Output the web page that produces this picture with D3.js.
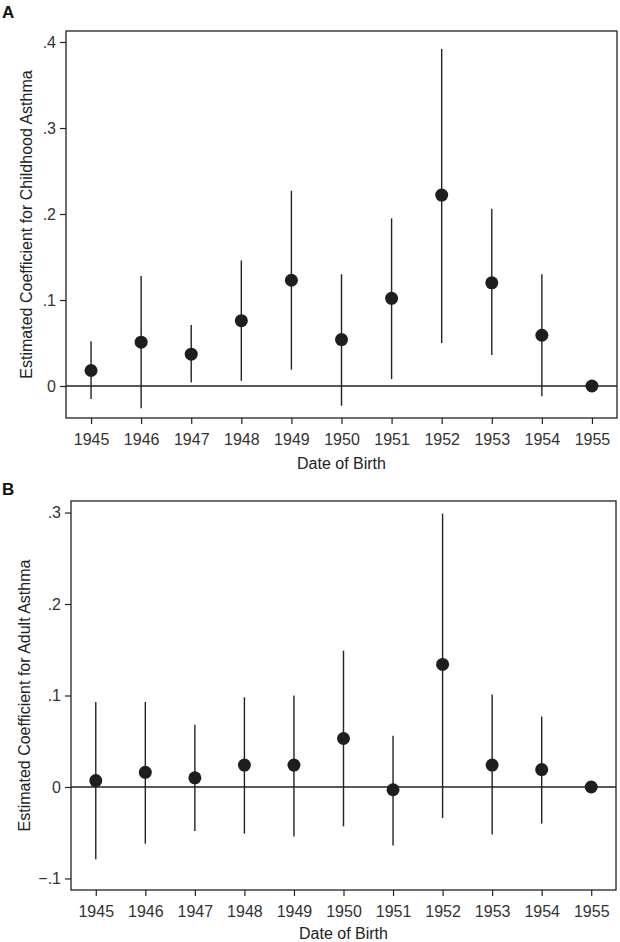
<!DOCTYPE html>
<meta charset="utf-8">
<style>
  body { margin: 0; background: #fff; }
  svg text { font-family: "Liberation Sans", Arial, sans-serif; fill: #222; }
</style>
<body>
<div id="chart"></div>
<script src="https://d3js.org/d3.v7.min.js"></script>
<script>

var years = [1945, 1946, 1947, 1948, 1949, 1950, 1951, 1952, 1953, 1954, 1955];

// panel A: childhood asthma
var coefA = [0.018, 0.051, 0.037, 0.076, 0.123, 0.054, 0.102, 0.222, 0.120, 0.059, 0];
var lowA  = [-0.015, -0.026, 0.004, 0.006, 0.019, -0.023, 0.008, 0.050, 0.036, -0.012, -0.003];
var highA = [0.052, 0.128, 0.071, 0.146, 0.227, 0.130, 0.195, 0.392, 0.206, 0.130, 0.003];
var yTicksA = [0, 0.1, 0.2, 0.3, 0.4];

// panel B: adult asthma
var coefB = [0.007, 0.016, 0.010, 0.024, 0.024, 0.053, -0.003, 0.134, 0.024, 0.019, 0];
var lowB  = [-0.079, -0.062, -0.048, -0.051, -0.054, -0.043, -0.064, -0.034, -0.052, -0.040, -0.003];
var highB = [0.093, 0.093, 0.068, 0.098, 0.100, 0.149, 0.056, 0.299, 0.101, 0.077, 0.003];
var yTicksB = [-0.1, 0, 0.1, 0.2, 0.3];

var svg = d3.select("#chart").append("svg")
    .attr("width", 620)
    .attr("height", 942);

function fmt(v) {
  if (Math.abs(v) < 1e-9) return "0";
  var s = d3.format(".1f")(Math.abs(v)).replace(/^0/, "");
  return (v < 0 ? "\u2212" : "") + s;
}

function panel(opt) {
  var g = svg.append("g");
  var x = d3.scaleLinear().domain([1944.5, 1955.5]).range([opt.left, opt.right]);
  var y = d3.scaleLinear().domain(opt.yDomain).range([opt.bottom, opt.top]);

  // frame
  g.append("rect")
    .attr("x", opt.left).attr("y", opt.top)
    .attr("width", opt.right - opt.left).attr("height", opt.bottom - opt.top)
    .attr("fill", "none").attr("stroke", "#222").attr("stroke-width", 1.3);

  // x axis
  var xa = g.append("g")
    .attr("transform", "translate(0," + opt.bottom + ")")
    .call(d3.axisBottom(x).tickValues(years).tickFormat(d3.format("d")).tickSize(6).tickPadding(10));
  xa.select(".domain").remove();
  xa.selectAll("line").attr("stroke", "#222").attr("stroke-width", 1.2);
  xa.selectAll("text").attr("font-size", 16).style("fill", "#333");

  // y axis
  var ya = g.append("g")
    .attr("transform", "translate(" + opt.left + ",0)")
    .call(d3.axisLeft(y).tickValues(opt.ticks).tickFormat(fmt).tickSize(6).tickPadding(4));
  ya.select(".domain").remove();
  ya.selectAll("line").attr("stroke", "#222").attr("stroke-width", 1.2);
  ya.selectAll("text").attr("font-size", 16).style("fill", "#333");

  // zero line
  g.append("line")
    .attr("x1", opt.left).attr("x2", opt.right)
    .attr("y1", y(0)).attr("y2", y(0))
    .attr("stroke", "#222").attr("stroke-width", 1.6);

  var data = years.map(function(yr, i) {
    return { year: yr, c: opt.coef[i], lo: opt.low[i], hi: opt.high[i] };
  });

  g.selectAll(".ci").data(data).enter().append("line")
    .attr("x1", function(d) { return x(d.year); })
    .attr("x2", function(d) { return x(d.year); })
    .attr("y1", function(d) { return y(d.lo); })
    .attr("y2", function(d) { return y(d.hi); })
    .attr("stroke", "#222").attr("stroke-width", 1.4);

  g.selectAll(".pt").data(data).enter().append("circle")
    .attr("cx", function(d) { return x(d.year); })
    .attr("cy", function(d) { return y(d.c); })
    .attr("r", 6.5)
    .attr("fill", "#1e1e1e");

  // titles
  g.append("text")
    .attr("x", (opt.left + opt.right) / 2).attr("y", opt.bottom + opt.xlabDy)
    .attr("text-anchor", "middle").attr("font-size", 16)
    .text("Date of Birth");

  g.append("text")
    .attr("transform", "translate(" + opt.ylabX + "," + (opt.top + opt.bottom) / 2 + ") rotate(-90)")
    .attr("text-anchor", "middle").attr("font-size", 16)
    .text(opt.ylab);

  g.append("text")
    .attr("x", 2).attr("y", opt.letterY)
    .attr("font-size", 17).attr("font-weight", "bold")
    .style("fill", "#111")
    .text(opt.letter);
}

panel({
  left: 66, right: 617, top: 31, bottom: 418,
  yDomain: [-0.0372, 0.4128], ticks: yTicksA,
  coef: coefA, low: lowA, high: highA,
  ylab: "Estimated Coefficient for Childhood Asthma", ylabX: 32,
  xlabDy: 51,
  letter: "A", letterY: 18
});

panel({
  left: 71, right: 616, top: 501, bottom: 890,
  yDomain: [-0.1126, 0.3126], ticks: yTicksB,
  coef: coefB, low: lowB, high: highB,
  ylab: "Estimated Coefficient for Adult Asthma", ylabX: 30,
  xlabDy: 49,
  letter: "B", letterY: 495
});

</script>
</body>
